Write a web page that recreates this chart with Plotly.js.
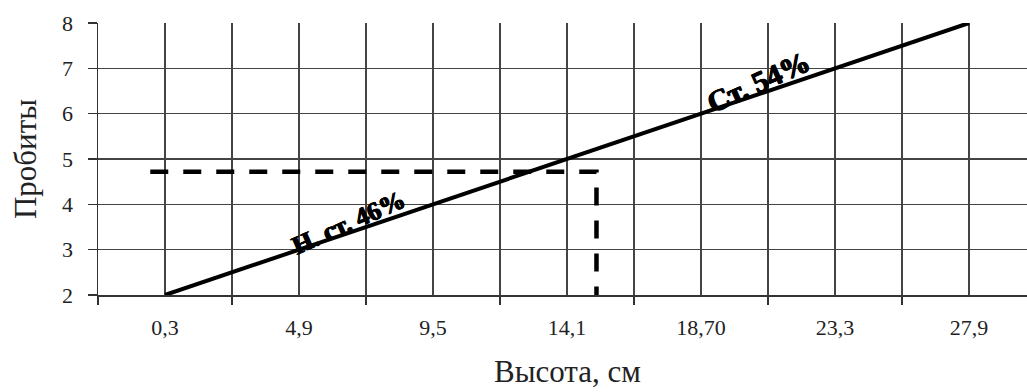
<!DOCTYPE html>
<html>
<head>
<meta charset="utf-8">
<script src="https://cdn.plot.ly/plotly-3.0.1.min.js"></script>
<style>
html, body { margin: 0; padding: 0; background: #fff; overflow: hidden; width: 1027px; height: 392px; }
#chart { width: 1040px; height: 392px; }
</style>
</head>
<body>
<div id="chart"></div>
<script>
// Data
const heightLabels = ['0,3', '4,9', '9,5', '14,1', '18,70', '23,3', '27,9'];
const probits = [2, 3, 4, 5, 6, 7, 8];
// Dashed reference line (category-index x, probit y)
const dashX = [-0.11, 3.22, 3.22];
const dashY = [4.72, 4.72, 2];
const yTicks = [2, 3, 4, 5, 6, 7, 8];
const labelNonStandard = 'Н. ст. 46%';
const labelStandard = 'Ст. 54%';
const xTitle = 'Высота, см';
const yTitle = 'Пробиты';

const idx = heightLabels.map((_, i) => i);
const boundaries = [];
for (let i = -0.5; i <= heightLabels.length - 0.5 + 1e-9; i += 1) boundaries.push(i);

const serif = 'Liberation Serif';
const gridCol = '#444';
const boldFont = (size) => ({ family: serif, size: size, color: '#000', weight: 700,
  shadow: '0.7px 0 0 #000, -0.7px 0 0 #000, 0 0.5px 0 #000' });

const traces = [
  {
    x: idx, y: probits, type: 'scatter', mode: 'lines',
    line: { color: '#000', width: 4 }, xaxis: 'x', yaxis: 'y', hoverinfo: 'skip'
  },
  {
    x: dashX, y: dashY, type: 'scatter', mode: 'lines',
    line: { color: '#000', width: 4.5, dash: '18px,15px' }, xaxis: 'x2', yaxis: 'y', hoverinfo: 'skip'
  }
];

const layout = {
  width: 1040, height: 392,
  margin: { l: 98, r: 4, t: 23, b: 97 },
  paper_bgcolor: '#fff', plot_bgcolor: '#fff',
  showlegend: false,
  font: { family: serif, color: '#222', size: 22 },
  xaxis: {
    range: [-0.5, heightLabels.length - 0.5],
    tickmode: 'array', tickvals: boundaries, ticktext: boundaries.map(() => ''),
    ticks: 'outside', ticklen: 8, tickwidth: 1.3, tickcolor: '#333',
    showgrid: true, gridcolor: gridCol, gridwidth: 1.3,
    showline: true, linecolor: '#333', linewidth: 1.5,
    zeroline: false, fixedrange: true
  },
  xaxis2: {
    overlaying: 'x', anchor: 'y', side: 'bottom',
    range: [-0.5, heightLabels.length - 0.5],
    tickmode: 'array', tickvals: idx, ticktext: heightLabels,
    ticks: '', ticklabelstandoff: 17,
    tickfont: { family: serif, size: 22, color: '#222' },
    showgrid: true, gridcolor: gridCol, gridwidth: 1.3,
    showline: false, zeroline: false, fixedrange: true
  },
  yaxis: {
    range: [2, 8],
    tickmode: 'array', tickvals: yTicks,
    ticks: 'outside', ticklen: 9, tickwidth: 1.3, tickcolor: '#333',
    ticklabelstandoff: 10,
    tickfont: { family: serif, size: 22, color: '#222' },
    showgrid: true, gridcolor: gridCol, gridwidth: 1.3,
    showline: true, linecolor: '#333', linewidth: 1.5,
    zeroline: false, fixedrange: true,
    title: { text: yTitle, font: { family: serif, size: 31, color: '#222' }, standoff: 16 }
  },
  annotations: [
    {
      x: 0.5, y: 0, xref: 'paper', yref: 'paper', text: xTitle, showarrow: false,
      yanchor: 'bottom', font: { family: serif, size: 31, color: '#222' }
    },
    {
      x: 1.37, y: 3.61, xref: 'x', yref: 'y', text: '<b>' + labelNonStandard + '</b>', showarrow: false,
      textangle: -24, font: boldFont(26)
    },
    {
      x: 4.43, y: 6.70, xref: 'x', yref: 'y', text: '<b>' + labelStandard + '</b>', showarrow: false,
      textangle: -24, font: boldFont(30)
    }
  ]
};
// x title placed in pixels: convert the pixel position into paper coordinates
const plotH = layout.height - layout.margin.t - layout.margin.b;
const plotW = layout.width - layout.margin.l - layout.margin.r;
layout.annotations[0].x = (567 - layout.margin.l) / plotW;
layout.annotations[0].y = (layout.height - layout.margin.b - 391) / plotH;

Plotly.newPlot('chart', traces, layout, { staticPlot: true, displayModeBar: false });
</script>
</body>
</html>
